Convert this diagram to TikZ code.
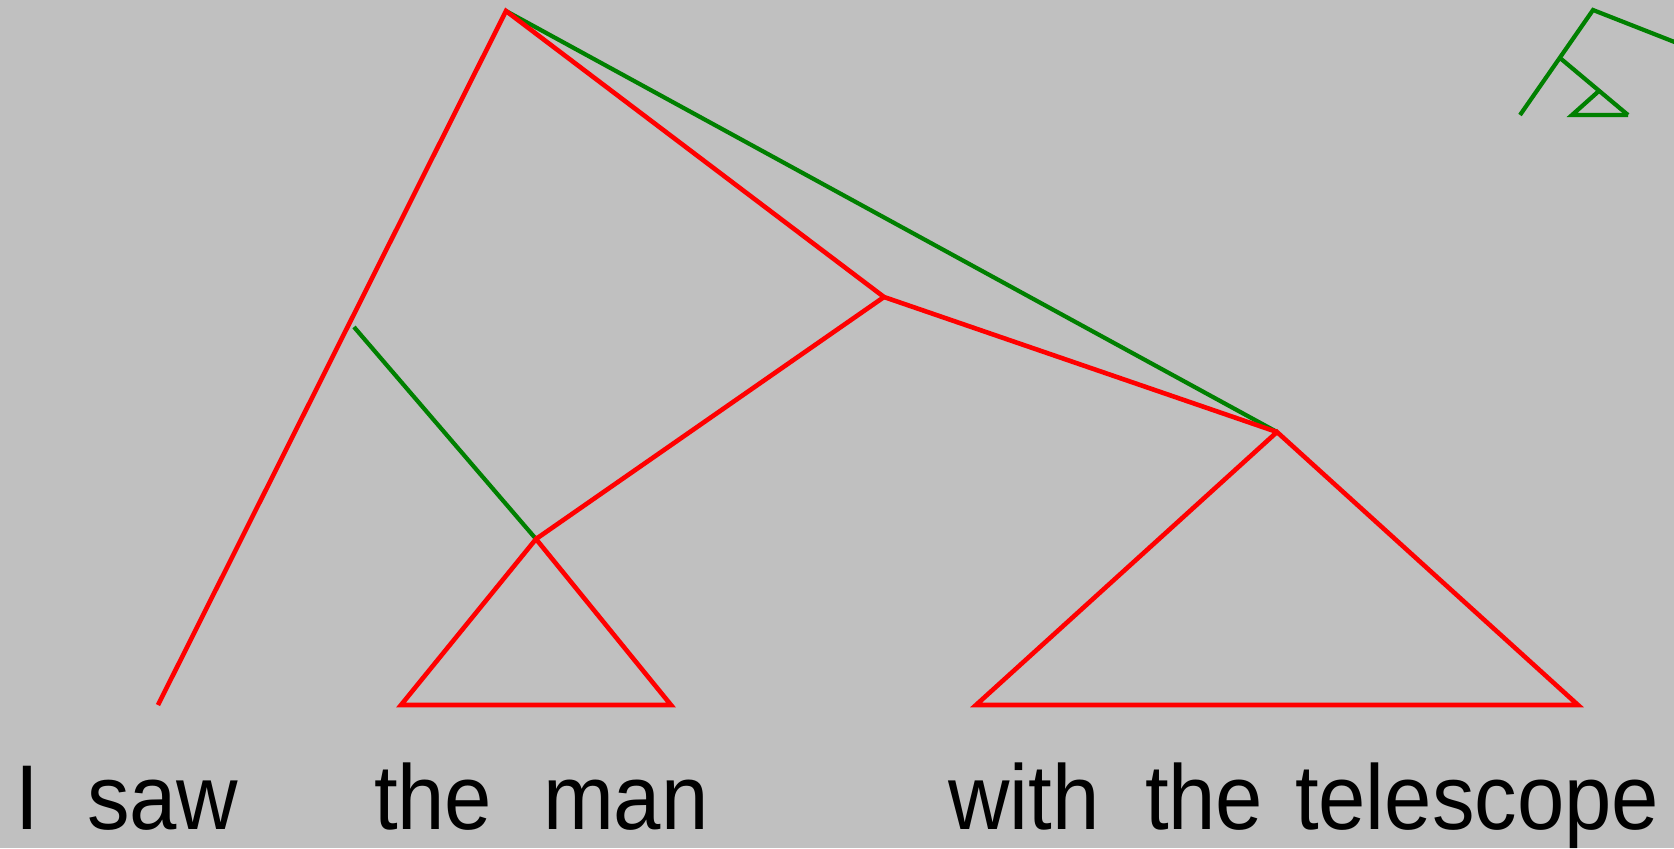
\documentclass[tikz,border=0pt]{standalone}
\usepackage{fontspec}
\setmainfont{Liberation Sans}
\definecolor{bggray}{RGB}{192,192,192}
\definecolor{treered}{RGB}{255,0,0}
\definecolor{treegreen}{RGB}{0,128,0}
\begin{document}
\begin{tikzpicture}[x=0.5pt,y=-0.5pt,
  redline/.style={draw=treered,line width=2.3pt,line join=miter},
  greenline/.style={draw=treegreen,line width=2.1pt,line join=miter},
  word/.style={anchor=base west,inner sep=0pt,outer sep=0pt,font=\fontsize{46pt}{50pt}\selectfont,xscale=0.925}]
\fill[bggray] (0,0) rectangle (1674,848);
\useasboundingbox (0,0) rectangle (1674,848);
\clip (0,0) rectangle (1674,848);
% tree coordinates
\coordinate (A) at (506,11);
\coordinate (Ib) at (158,705);
\coordinate (M) at (884,297);
\coordinate (N) at (536,539);
\coordinate (P) at (1277,432);
\coordinate (G1) at (354,327);
\coordinate (NL) at (401,705);
\coordinate (NR) at (671,705);
\coordinate (PL) at (976,705);
\coordinate (PR) at (1578,705);
% small tree top right
\coordinate (sL) at (1520,115);
\coordinate (sT) at (1593,10);
\coordinate (sE) at (1700,52);
\coordinate (sB) at (1560,58);
\coordinate (sR) at (1628,115);
\coordinate (sN) at (1600,90);
\coordinate (sNL) at (1572,115);
% green
\draw[greenline] (A) -- (P);
\draw[greenline] (G1) -- (N);
\draw[greenline] (sL) -- (sT) -- (sE);
\draw[greenline] (sB) -- (sR);
\draw[greenline] (sN) -- (sNL) -- (sR);
% red
\draw[redline] (Ib) -- (A) -- (M) -- (N);
\draw[redline] (M) -- (P);
\draw[redline] (N) -- (NL) -- (NR) -- cycle;
\draw[redline] (P) -- (PL) -- (PR) -- cycle;
% words
\node[word] (w1) at (15,829) {I};
\node[word] (w2) at (87,829) {saw};
\node[word] (w3) at (374,829) {the};
\node[word] (w4) at (543,829) {man};
\node[word] (w5) at (948,829) {with};
\node[word] (w6) at (1145,829) {the};
\node[word] (w7) at (1295,829) {telescope};
\end{tikzpicture}
\end{document}
